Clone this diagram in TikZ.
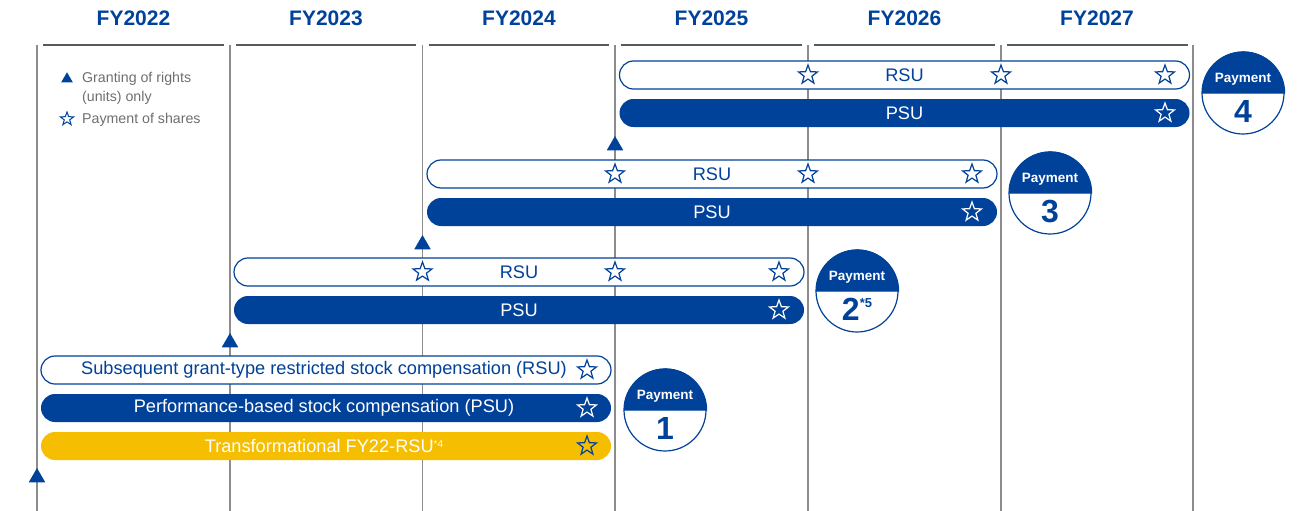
\documentclass[tikz,border=0pt]{standalone}
\usepackage{fontspec}
\setmainfont{Liberation Sans}
\usetikzlibrary{shapes.geometric,shapes.misc}
\definecolor{nblue}{HTML}{00419A}
\definecolor{nyellow}{HTML}{F6BE00}
\definecolor{vgray}{HTML}{8C8C8C}
\definecolor{hgray}{HTML}{5A5A5A}
\definecolor{tgray}{HTML}{6E6E6E}
\tikzset{
  yearlbl/.style={anchor=base, text=nblue, font=\fontsize{21}{24}\selectfont\bfseries},
  rsubar/.style={rounded rectangle, draw=nblue, line width=1.2pt, fill=white, minimum width=570pt, minimum height=28pt, inner sep=0pt, text=nblue, font=\fontsize{18.2}{20}\selectfont},
  psubar/.style={rsubar, draw=none, fill=nblue, text=white},
  trfbar/.style={rsubar, draw=none, fill=nyellow, text=white},
  paystar/.style={star, star points=5, star point ratio=2.45, draw=nblue, line width=1.2pt, minimum size=20pt, inner sep=0pt},
  grant/.style={regular polygon, regular polygon sides=3, fill=nblue, minimum size=19pt, inner sep=0pt},
  paycircle/.style={circle, draw=nblue, line width=1.2pt, minimum size=82pt, inner sep=0pt},
  paylbl/.style={anchor=base, text=white, font=\fontsize{13.5}{15}\selectfont\bfseries},
  paynum/.style={anchor=base, text=nblue, font=\fontsize{32}{34}\selectfont\bfseries},
  legtxt/.style={anchor=base west, text=tgray, font=\fontsize{14.2}{16}\selectfont, inner sep=0pt}
}
\newcommand{\notemark}[2]{\raisebox{#1}{\fontsize{10}{10}\selectfont #2}}
\begin{document}
\begin{tikzpicture}[x=1pt,y=-1pt]
\useasboundingbox (0,0) rectangle (1303,511);

% year grid
\draw[vgray, line width=1.2pt] (37,45) -- (37,511);
\draw[vgray, line width=1.2pt] (230,45) -- (230,511);
\draw[vgray, line width=1.2pt] (422.5,45) -- (422.5,511);
\draw[vgray, line width=1.2pt] (615,45) -- (615,511);
\draw[vgray, line width=1.2pt] (808,45) -- (808,511);
\draw[vgray, line width=1.2pt] (1001,45) -- (1001,511);
\draw[vgray, line width=1.2pt] (1193,45) -- (1193,511);

\draw[hgray, line width=1.1pt] (43,45) -- (224,45);
\draw[hgray, line width=1.1pt] (236,45) -- (416,45);
\draw[hgray, line width=1.1pt] (429,45) -- (609,45);
\draw[hgray, line width=1.1pt] (621,45) -- (802,45);
\draw[hgray, line width=1.1pt] (814,45) -- (995,45);
\draw[hgray, line width=1.1pt] (1007,45) -- (1188,45);

\node[yearlbl] (fy22) at (133.5,26) {FY2022};
\node[yearlbl] (fy23) at (326,26) {FY2023};
\node[yearlbl] (fy24) at (519,26) {FY2024};
\node[yearlbl] (fy25) at (711.5,26) {FY2025};
\node[yearlbl] (fy26) at (904.5,26) {FY2026};
\node[yearlbl] (fy27) at (1097,26) {FY2027};

% legend
\node[grant, minimum size=13.5pt] (leggrant) at (67,79) {};
\node[legtxt] (legtxtA) at (82,82) {Granting of rights};
\node[legtxt] (legtxtB) at (82,101.5) {(units) only};
\node[paystar, minimum size=14pt, line width=1pt] (legstar) at (67,119) {};
\node[legtxt] (legtxtC) at (82,123.5) {Payment of shares};

% FY2025 grant
\node[rsubar] (rsuA) at (904.5,75) {RSU};
\node[psubar] (psuA) at (904.5,113) {PSU};
\node[paystar] (sA1) at (808,75) {};
\node[paystar] (sA2) at (1001,75) {};
\node[paystar] (sA3) at (1165,75) {};
\node[paystar, draw=white] (sA4) at (1165,113) {};
\node[grant] (gA) at (615,145.5) {};

% FY2024 grant
\node[rsubar] (rsuB) at (712,174) {RSU};
\node[psubar] (psuB) at (712,212) {PSU};
\node[paystar] (sB1) at (615,174) {};
\node[paystar] (sB2) at (808,174) {};
\node[paystar] (sB3) at (972,174) {};
\node[paystar, draw=white] (sB4) at (972,212) {};
\node[grant] (gB) at (422.5,244.5) {};

% FY2023 grant
\node[rsubar] (rsuC) at (519,272) {RSU};
\node[psubar] (psuC) at (519,310) {PSU};
\node[paystar] (sC1) at (422.5,272) {};
\node[paystar] (sC2) at (615,272) {};
\node[paystar] (sC3) at (779,272) {};
\node[paystar, draw=white] (sC4) at (779,310) {};
\node[grant] (gC) at (230,342.5) {};

% FY2022 grant
\node[rsubar] (rsuD) at (326,370) {\hspace*{-4pt}Subsequent grant-type restricted stock compensation (RSU)};
\node[psubar] (psuD) at (326,408) {\hspace*{-4pt}Performance-based stock compensation (PSU)};
\node[trfbar] (trfD) at (326,446) {\hspace*{-4pt}Transformational FY22-RSU\notemark{5pt}{*4}};
\node[paystar] (sD1) at (587,370) {};
\node[paystar, draw=white] (sD2) at (587,408) {};
\node[paystar] (sD3) at (587,446) {};
\node[grant] (gD) at (37,477.5) {};

% payments
\node[paycircle] (pay1) at (665,410) {};
\filldraw[nblue, line width=1.2pt] (pay1.east) arc[start angle=0, end angle=180, radius=41pt] -- cycle;
\node[paylbl] (paytxt1) at (665,399) {Payment};
\node[paynum] (paynum1) at (665,439) {1};

\node[paycircle] (pay2) at (857,291) {};
\filldraw[nblue, line width=1.2pt] (pay2.east) arc[start angle=0, end angle=180, radius=41pt] -- cycle;
\node[paylbl] (paytxt2) at (857,280) {Payment};
\node[paynum] (paynum2) at (857,320) {2\notemark{13pt}{\bfseries\fontsize{13}{13}\selectfont *5}};

\node[paycircle] (pay3) at (1050,193) {};
\filldraw[nblue, line width=1.2pt] (pay3.east) arc[start angle=0, end angle=180, radius=41pt] -- cycle;
\node[paylbl] (paytxt3) at (1050,182) {Payment};
\node[paynum] (paynum3) at (1050,222) {3};

\node[paycircle] (pay4) at (1243,93) {};
\filldraw[nblue, line width=1.2pt] (pay4.east) arc[start angle=0, end angle=180, radius=41pt] -- cycle;
\node[paylbl] (paytxt4) at (1243,82) {Payment};
\node[paynum] (paynum4) at (1243,122) {4};
\end{tikzpicture}
\end{document}
